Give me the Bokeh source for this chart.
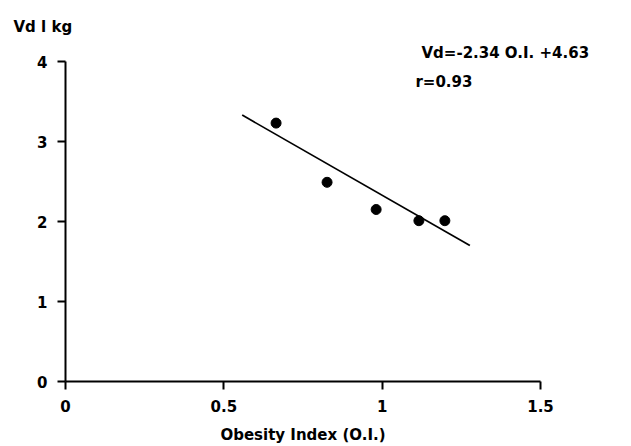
from bokeh.plotting import figure
from bokeh.models import Range1d, FixedTicker, Label, Title
from bokeh.embed import file_html
from bokeh.resources import INLINE

# Data
obesity_index = [0.665, 0.826, 0.981, 1.116, 1.198]
vd_l_per_kg = [3.23, 2.49, 2.15, 2.01, 2.01]

# Regression line endpoints as drawn
fit_x = [0.558, 1.277]
fit_y = [3.33, 1.70]

x_ticks = [0, 0.5, 1, 1.5]
x_tick_labels = ["0", "0.5", "1", "1.5"]
y_ticks = [0, 1, 2, 3, 4]
y_tick_labels = ["0", "1", "2", "3", "4"]

y_title = "Vd l kg"
x_title = "Obesity Index (O.I.)"
equation = "Vd=-2.34 O.I. +4.63"
r_text = "r=0.93"

FONT = "DejaVu Sans"
FS = "15px"

p = figure(width=631, height=446, output_backend="svg", toolbar_location=None,
           x_range=Range1d(0, 1.5), y_range=Range1d(0, 4),
           min_border_left=65, min_border_right=91,
           min_border_top=61, min_border_bottom=63)
p.outline_line_color = None
p.grid.visible = False
p.background_fill_color = "white"
p.border_fill_color = "white"

for ax in (p.xaxis[0], p.yaxis[0]):
    ax.axis_line_width = 2
    ax.axis_line_color = "black"
    ax.major_tick_line_width = 2
    ax.major_tick_line_color = "black"
    ax.major_tick_in = 0
    ax.major_tick_out = 8
    ax.minor_tick_line_color = None
    ax.major_label_text_font = FONT
    ax.major_label_text_font_style = "bold"
    ax.major_label_text_font_size = FS
    ax.major_label_text_color = "black"

p.xaxis[0].ticker = FixedTicker(ticks=x_ticks)
p.xaxis[0].major_label_overrides = {t: l for t, l in zip(x_ticks, x_tick_labels)}
p.xaxis[0].major_label_standoff = 10
p.xaxis[0].axis_label = x_title
p.xaxis[0].axis_label_standoff = 11
p.xaxis[0].axis_label_text_font = FONT
p.xaxis[0].axis_label_text_font_style = "bold"
p.xaxis[0].axis_label_text_font_size = FS
p.xaxis[0].axis_label_text_color = "black"

p.yaxis[0].ticker = FixedTicker(ticks=y_ticks)
p.yaxis[0].major_label_overrides = {t: l for t, l in zip(y_ticks, y_tick_labels)}
p.yaxis[0].major_label_standoff = 10

p.line(fit_x, fit_y, line_color="black", line_width=1.7)
p.scatter(obesity_index, vd_l_per_kg, size=10, color="black")

# Y quantity label: outermost title, top left
p.title.text = y_title
p.title.align = "left"
p.title.offset = -52
p.title.standoff = 12
p.title.text_font = FONT
p.title.text_font_style = "bold"
p.title.text_font_size = FS
p.title.text_color = "black"

# Equation: title closest to the frame
p.add_layout(Title(text=equation, align="left", offset=356, standoff=0,
                   text_font=FONT, text_font_style="bold", text_font_size=FS,
                   text_color="black"), "above")

p.add_layout(Label(x=1.195, y=3.738, text=r_text, text_align="center",
                   text_baseline="middle", text_font=FONT, text_font_style="bold",
                   text_font_size=FS, text_color="black"))

open("out.html", "w").write(file_html(p, INLINE))
